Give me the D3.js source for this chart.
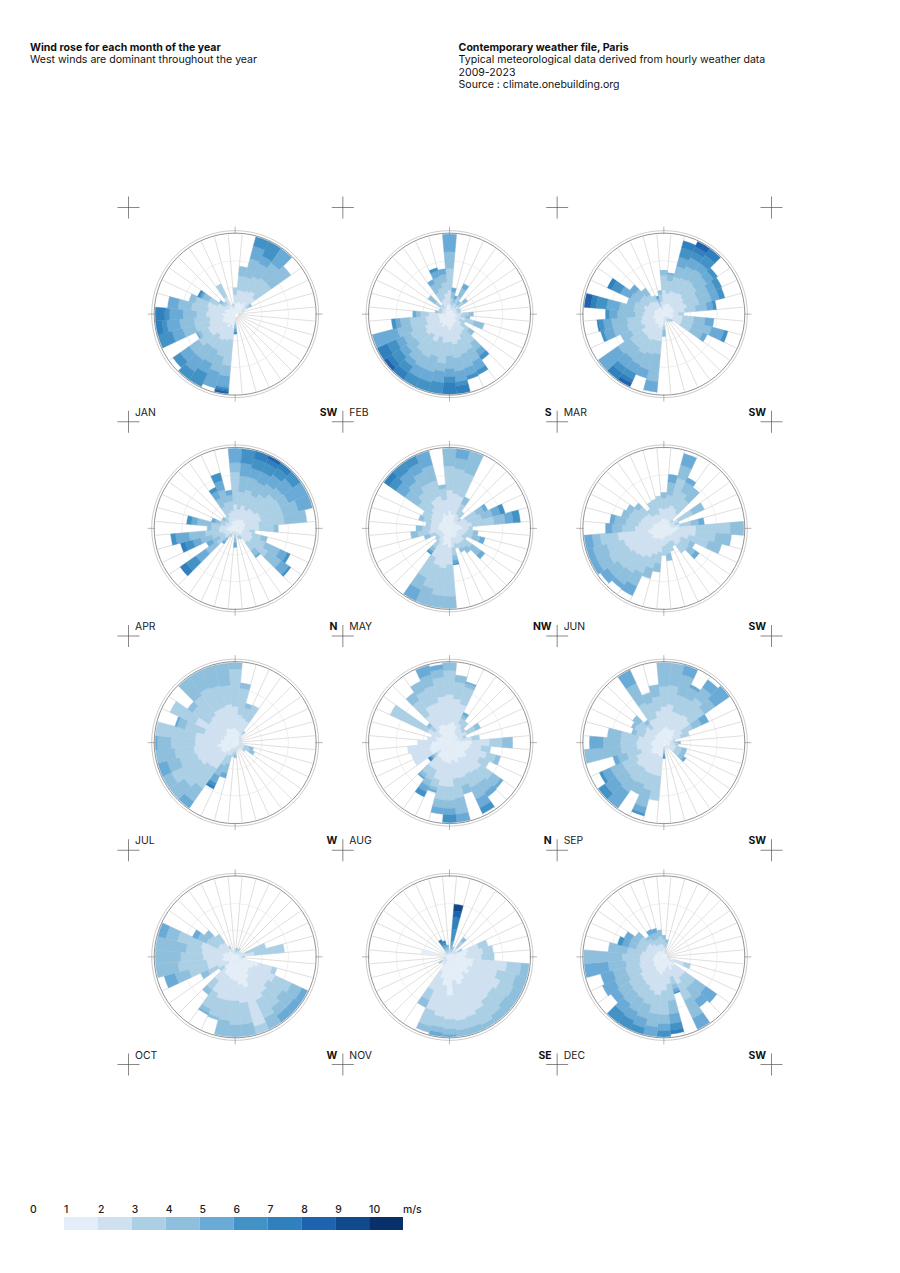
<!DOCTYPE html>
<html>
<head>
<meta charset="utf-8">
<script src="https://cdn.jsdelivr.net/npm/d3@7"></script>
<style>
  html, body { margin: 0; padding: 0; background: #fff; }
  svg { display: block; font-family: Inter, "Noto Sans", sans-serif; }
</style>
</head>
<body>
<div id="chart"></div>
<script>
// each month: 36 sectors clockwise from N, each one the cumulative radius (% of full scale)
// reached by the speed classes 0-1, 1-2, 2-3 ... m/s
const jan = [[14,24,33],[14,30,48,60],[16,30,48,72,88,100],[14,32,52,70,80,100],[18,35,55,78,100],[14,30,55,85],[10,16,20,23],[8,12],[],[],[],[],[],[],[],[],[],[],
  [6,10,14,18,22,25],[18,32,65,78,92,94,97,100],[14,34,55,75,96],[18,36,50,68,82,100],[14,32,50,70,88,100],[16,38,56,70,84,95],[18,38,48,52,54],[16,34,52,68,82,100],[14,32,52,70,86,92,100],[16,36,48,65,82,88,100],
  [12,34,55,72,85],[14,36,52,60],[12,24,36,45,48,50,52],[10,16,20,25],[10,15,20],[12,24,42],[8,12],[8,11,13]];
const feb = [[12,30,57,78,100],[6,12,20,28,33],[5,10,15,20,24],[8,14,24,36,42],[6,10,15,20],[6,14,22,28],[6,10,14],[6,10,15],[6,10,14],[8,16,24,30],[8,14,20,26],[10,20,32,45],[8,14,22],[10,18,30,38],[12,26,44,56,64,70],[12,28,50,66,78,84],[14,34,52,70,80,85],[16,38,55,72,85,90,100],
  [20,35,52,68,78,86,100],[16,36,62,72,86,100],[14,30,55,75,88,100],[18,38,60,75,88,100],[14,32,58,72,80,90,100],[16,36,52,66,76,88,95,100],[14,34,54,64,74,86,100],[14,30,50,68,100],[14,30,50,62,68,73],[14,26,36,42,46],
  [6,10,15,18],[6,10,14],[6,10,14],[8,14,22,33],[6,10,15],[8,18,30,42,48],[10,20,34,48,56,60],[12,26,40,50,57]];
const mar = [[12,30,48,55],[12,26,42,50,52],[14,30,48,62,74,86,95],[14,30,50,66,78,86,93,100],[12,32,52,68,78,90,100],[14,30,50,66,76,82],[12,28,46,62,72,80],[14,30,46,62,72,79],[12,26,40,54,62,66],[10,18,25],[12,24,38,52,63],[12,24,38,62,78,83],[12,24,38,54,60],[6,10,14],[4,8,12],[4,8,10],[4,8],[4,8],
  [6,14,20,28],[16,34,50,85,98],[18,34,52,72,83],[14,36,55,70,82,90,95,100],[16,34,52,68,82,90,100],[14,34,52,70,100],[12,28,46,60],[14,30,48,66,78,82],[12,28,46,66,76,82,84],[12,26,36,58,68,73],
  [12,24,38,56,72,85,92,100],[12,26,38,48],[10,22,34,46,60,72,78],[10,22,34,44,52],[10,20,30,40],[10,18,26],[5,10,15,20,24],[8,16,25,30]];
const apr = [[12,30,70,82,100],[10,24,46,66,82,100],[12,30,50,66,78,90,100],[12,26,46,64,78,90,96,100],[14,30,52,68,82,92,100],[14,30,60,72,88,100],[12,34,62,74,100],[14,34,62,82,100],[12,30,62,90],[12,30,48,54],[10,18,25],[10,22,34,42],[10,24,42,62,72,76],[10,24,50,70,82,85],[10,22,34,42,45],[6,10,15],[6,10,14],[4,8],
  [4,8,12,18,24],[4,8],[4,8],[4,8,12],[5,9,15,20,24],[8,16,28,45,60,75,84],[8,14,22,32,40],[8,16,30,45,55,65,71],[10,20,38,58,75,81],[10,20,30,35],
  [10,18,30,48,55,61],[6,12,20,26,31],[8,14,20],[6,10,15,20],[6,12,18],[8,16,30,42,52,57],[10,20,34,50,62,72],[10,22,34,42,48]];
const may = [[22,48,78,100],[18,44,75,88,100],[18,42,72,100],[10,20,34,44],[10,18,26],[8,14,18],[10,22,38,48,53],[12,24,42,56,66,72],[14,28,56,70,80,89],[16,24,29],[12,22,30,36],[10,20,30,40,46],[10,18,24],[12,22,34,48,54],[12,22,30,38],[14,22,28,33],[12,20,26],[12,24,34,40,44,46],
  [24,45,85,100],[20,50,85,100],[22,48,78,100],[16,40,68,85,100],[10,20,30,35,38,40],[10,16,22],[10,16,20],[10,18,26,33],[12,26,40,49],[14,24,34,42],
  [14,24,30],[14,24,34,40],[14,26,38],[12,28,48,68,82,92,100],[14,32,55,72,88,100],[16,40,62,78,90,100],[20,42,62,82,100],[16,36,50,55]];
const jun = [[12,24,38,45],[12,26,42,58,68],[10,30,65,82,97],[12,28,50,64,70],[10,24,44,63],[8,12,15],[10,20,40,56],[8,14,20],[10,20,34,44,51],[18,40,83,100],[16,40,65,85],[14,32,58,75],[12,24,36,43],[12,26,38,48,54],[12,26,38],[10,18,25],[10,18,30],[10,20,32,41],
  [12,22,34],[14,30,44,55],[14,34,52,65],[14,40,62,80,93],[16,44,68,86,92],[18,46,70,86,97],[16,50,76,92,100],[18,52,74,92,100],[20,58,80,90,100],[16,36,52,65,73],
  [14,32,48,62,68],[14,30,46,55],[12,28,44,52],[10,26,38,45],[10,20,30],[10,20,37],[10,18,38],[12,26,41]];
const jul = [[18,45,92,100],[16,35,68,75],[14,32,45,51],[12,30,52],[8,14,18],[6,10],[6,10],[5,9],[5,9],[5,8],[5,8],[6,12,18,24],[6,12,20,27],[6,12,16],[5,9],[5,9],[5,10],[5,10],
  [6,10,15,19],[6,12,18],[8,16,28,40,46],[8,18,32,46,56,60,64],[14,40,70,90,100],[18,42,78,100],[20,48,88,100],[18,50,72,88,100],[22,52,76,100],[18,50,80,97,100],
  [18,50,100],[14,40,65,75,78],[16,55,90],[14,40,65,73],[16,42,72,100],[20,46,76,100],[18,46,74,100],[18,48,72,100]];
const aug = [[24,60,90,100],[26,55,76,85],[22,50,72,77,79],[14,26,34,38,42],[12,22,33],[12,20,25],[12,24,36,43],[10,18,22],[14,28,38],[28,50,66,79],[26,40,52],[24,48,60,66],[22,42,55],[26,48,66,78,82],[24,46,62,76,83],[22,44,62,78,90,98],[26,46,56,67],[22,45,70,90,100],
  [26,55,72,82,90,100],[25,55,72,82,90],[24,48,58,62,65],[22,38,52,60,68,75],[22,38,48,53,56],[14,20,24,27,29,31,33],[25,50],[26,50],[24,53],[22,40],
  [16,28],[18,24],[14,30,82],[12,22,30,35],[20,42,65,77],[24,52,72,85],[24,52,74,88,100],[22,58,82,92,98]];
const sep = [[18,45,70,100],[20,48,72,100],[18,40,62,88,100],[18,40,62,76,80],[20,42,68,84,96],[16,40,62,78,100],[12,26,40,52,62],[12,22,33],[8,12,14],[8,12,17,21],[8,14,18],[8,16,24,30],[8,16,24,30],[8,16,24,30,34],[5,9],[],[],[],
  [3,6,10,14,17,20],[18,42,73],[18,42,62,84,92,95],[16,42,58,72],[18,40,60,76,100],[20,42,58,74,90,100],[18,38,58,74,85,89],[14,30,48,60,66],[16,34,54,100],[16,34,54,76,93],
  [14,32,54,71],[12,26,36,42],[12,26,40,45],[14,28,38,48],[12,22,30,35],[14,32,55,82,100],[14,32,52,65],[16,40,58,73]];
const oct = [[5,9],[3,6,9,11],[3,7,10],[4,8,12],[4,8],[4,8],[5,10],[6,14,40],[10,24,62],[5,9,12],[6,10],[30,48,54],[25,55,78,92,100],[22,50,72,90,100],[24,55,78,90,100],[30,60,85,100],[40,90,100],[35,58,85,100],
  [30,55,85,100],[28,55,80,100],[25,55,78,82],[24,50,72,78,80],[18,36,50,58],[10,18,25],[10,24,38,48],[14,36,60,78,92],[16,36,72,100],[14,40,68,100],
  [16,42,62,100],[14,44,75,90,100],[10,24,40,52,59],[10,24,38,47],[10,22,35],[8,12,15],[5,8],[4,7]];
const nov = [[5,9],[3,6,10,14,20,35,50,58,66],[3,6,10,13],[4,8],[6,14,24,30],[6,10],[6,12,18],[24,38,50],[22,42,55],[20,40,56],[30,72,90,100],[30,62,86,100],[26,70,88,100],[30,66,86,100],[25,68,90,100],[32,74,94,100],[36,78,92,100],[30,80,92,100],
  [48,78,90,97,100],[36,75,88,95,100],[28,70,90,98],[20,46,60,70],[5,12],[4,8],[5,10,15],[4,8],[4,7],[4,7],
  [36],[10],[4,7],[4],[3,6],[3,5,8,12,16,20,24],[3,6,9,12,15,18,21],[3,6,9,12,15]];
const dec = [[8,14,22,27],[6,12,18,22],[5,10],[4,8],[4],[],[],[],[],[4],[5,8],[12,26,35],[6,14],[16,32,48,64,81],[14,32,48,66,77],[18,38,60,85,100],[12,26,36,42,46,48],[14,34,55,72,84,92,97],
  [18,42,72,84,92,100],[22,48,72,88,100],[20,44,62,80,92,100],[18,40,58,76,88,100],[16,38,56,72,86,100],[16,36,54,70,81],[14,32,50,68,85],[14,32,50,66,82],[14,30,48,70,100],[12,30,52,100],
  [12,28,46,70],[10,24,36,46,54,60],[10,24,36,46,55],[10,24,36,44],[10,20,28,32],[8,16,24,32,38],[8,16,24,32,37],[8,16,26,34]];

const months = ['JAN','FEB','MAR','APR','MAY','JUN','JUL','AUG','SEP','OCT','NOV','DEC'];
const monthData = [jan,feb,mar,apr,may,jun,jul,aug,sep,oct,nov,dec];
const dominant = ['SW','S','SW','N','NW','SW','W','N','SW','W','SE','SW'];
const speedTicks = [0,1,2,3,4,5,6,7,8,9,10];
const speedColors = ['#e3eef8','#cfe1f0','#abd0e6','#8ebfdd','#6aaad6','#4292c6','#3080bd','#1f62ad','#114a8c','#08306b'];
const spokeAngles = d3.range(36);
const gridRings = [100/3, 200/3];
const headLeft = ['Wind rose for each month of the year','West winds are dominant throughout the year'];
const headRight = ['Contemporary weather file, Paris','Typical meteorological data derived from hourly weather data','2009-2023','Source : climate.onebuilding.org'];

function windRoses() {
  const width = 900, height = 1273;
  const svg = d3.select('#chart').append('svg')
    .attr('width', width).attr('height', height).attr('viewBox', `0 0 ${width} ${height}`);

  // header
  const drawHead = (lines, x) => lines.forEach((t, i) => {
    svg.append('text').attr('x', x).attr('y', 51 + i * 12.4)
      .attr('font-size', 10.55).attr('font-weight', i == 0 ? 700 : 400).attr('fill', '#111').text(t);
  });
  drawHead(headLeft, 30);
  drawHead(headRight, 458.6);

  const col = d3.scaleLinear().domain([0, 3]).range([128.5, 771.5]);
  const row = d3.scaleLinear().domain([0, 4]).range([207.5, 1064.5]);

  const radius = d3.scaleLinear().domain([0, 100]).range([0, 80]);
  const angle = i => (i * 10) * Math.PI / 180;
  const half = 5 * Math.PI / 180;
  const arc = d3.arc();
  const colour = d3.scaleOrdinal().domain(d3.range(10)).range(speedColors);

  // registration crosses
  d3.range(5).forEach(r => d3.range(4).forEach(c => {
    const g = svg.append('g').attr('transform', `translate(${col(c)},${row(r)})`)
      .attr('stroke', '#555').attr('stroke-width', 0.7);
    g.append('line').attr('x1', -11).attr('x2', 11);
    g.append('line').attr('y1', -11).attr('y2', 11);
  }));

  months.forEach((m, idx) => {
    const c = idx % 3, r = Math.floor(idx / 3);
    const cx = (col(c) + col(c + 1)) / 2 - 0.5, cy = (row(r) + row(r + 1)) / 2 - 0.5;
    const g = svg.append('g').attr('transform', `translate(${cx},${cy})`);

    // spokes and rings under the petals
    g.selectAll('.spoke').data(spokeAngles).enter().append('line')
      .attr('x1', d => radius(4) * Math.sin(angle(d) + half))
      .attr('y1', d => -radius(4) * Math.cos(angle(d) + half))
      .attr('x2', d => radius(100) * Math.sin(angle(d) + half))
      .attr('y2', d => -radius(100) * Math.cos(angle(d) + half))
      .attr('stroke', '#cfcdcb').attr('stroke-width', 0.65);
    g.selectAll('.ring').data(gridRings).enter().append('circle')
      .attr('r', d => radius(d)).attr('fill', 'none')
      .attr('stroke', '#dedede').attr('stroke-width', 0.5);

    // petals
    const cells = [];
    monthData[idx].forEach((stack, s) => stack.forEach((v, k) => {
      cells.push({ s, k, inner: k ? stack[k - 1] : 0, outer: v });
    }));
    g.selectAll('.cell').data(cells).enter().append('path')
      .attr('d', d => arc({
        innerRadius: radius(d.inner), outerRadius: radius(d.outer),
        startAngle: angle(d.s) - half, endAngle: angle(d.s) + half
      }))
      .attr('fill', d => colour(d.k))
      .attr('stroke', d => colour(d.k)).attr('stroke-width', 0.3);

    // frame
    g.append('circle').attr('r', 81).attr('fill', 'none').attr('stroke', '#777').attr('stroke-width', 0.8);
    g.append('circle').attr('r', 83.5).attr('fill', 'none').attr('stroke', '#aaa').attr('stroke-width', 0.6);
    [0, 90, 180, 270].forEach(a => {
      const t = a * Math.PI / 180;
      g.append('line')
        .attr('x1', 80 * Math.sin(t)).attr('y1', -80 * Math.cos(t))
        .attr('x2', 87.5 * Math.sin(t)).attr('y2', -87.5 * Math.cos(t))
        .attr('stroke', '#888').attr('stroke-width', 0.6);
    });

    // labels
    svg.append('text').attr('x', col(c) + 6.5).attr('y', row(r + 1) - 6)
      .attr('font-size', 10.4).attr('fill', '#222').text(m);
    svg.append('text').attr('x', col(c + 1) - 5.5).attr('y', row(r + 1) - 6)
      .attr('text-anchor', 'end').attr('font-size', 10.4).attr('font-weight', 700)
      .attr('fill', '#111').text(dominant[idx]);
  });

  // legend
  const lx = d3.scaleLinear().domain([1, 11]).range([64, 403]);
  svg.selectAll('.legend').data(speedColors).enter().append('rect')
    .attr('x', (d, i) => lx(i + 1)).attr('y', 1217)
    .attr('width', (d, i) => lx(i + 2) - lx(i + 1)).attr('height', 13)
    .attr('fill', d => d);
  svg.selectAll('.ltick').data(speedTicks).enter().append('text')
    .attr('x', d => lx(d)).attr('y', 1213)
    .attr('font-size', 10.4).attr('font-weight', 500).attr('fill', '#222').text(d => d);
  svg.append('text').attr('x', lx(11)).attr('y', 1213)
    .attr('font-size', 10.4).attr('font-weight', 500).attr('fill', '#222').text('m/s');
}

window.onload = function () {
  windRoses();
};
</script>
</body>
</html>
